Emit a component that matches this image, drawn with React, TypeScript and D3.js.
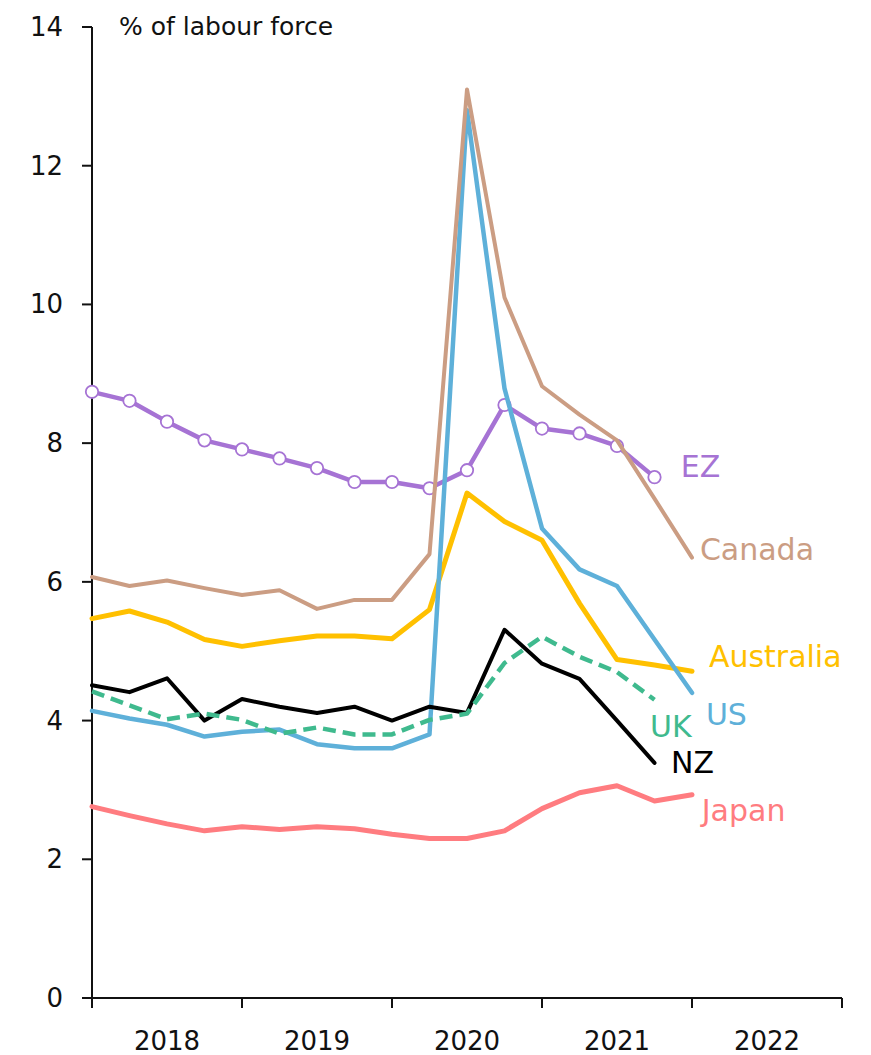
import React from "react";
import * as d3 from "d3";

// Quarterly unemployment rate, % of labour force, Q1 2018 onwards (index 0 = 2018 Q1)
const years = ["2018", "2019", "2020", "2021", "2022"];
const yTicks = [0, 2, 4, 6, 8, 10, 12, 14];

const ez = [8.74, 8.61, 8.31, 8.04, 7.91, 7.78, 7.64, 7.44, 7.44, 7.35, 7.61, 8.55, 8.21, 8.14, 7.96, 7.51];
const canada = [6.07, 5.94, 6.02, 5.91, 5.81, 5.88, 5.61, 5.74, 5.74, 6.4, 13.1, 10.1, 8.82, 8.41, 8.04, 7.2, 6.35];
const australia = [5.47, 5.58, 5.42, 5.17, 5.07, 5.15, 5.22, 5.22, 5.18, 5.6, 7.28, 6.87, 6.6, 5.69, 4.88, 4.8, 4.71];
const us = [4.14, 4.03, 3.94, 3.77, 3.84, 3.87, 3.66, 3.6, 3.6, 3.8, 12.8, 8.79, 6.77, 6.18, 5.94, 5.17, 4.4];
const uk = [4.42, 4.22, 4.02, 4.1, 4.01, 3.81, 3.9, 3.8, 3.8, 4.01, 4.1, 4.83, 5.21, 4.92, 4.7, 4.3];
const nz = [4.51, 4.41, 4.61, 4.0, 4.31, 4.2, 4.11, 4.2, 4.0, 4.2, 4.11, 5.31, 4.82, 4.6, 4.0, 3.39];
const japan = [2.76, 2.63, 2.51, 2.41, 2.47, 2.43, 2.47, 2.44, 2.36, 2.3, 2.3, 2.41, 2.73, 2.96, 3.06, 2.84, 2.93];

type Series = {
  name: string;
  values: number[];
  color: string;
  width: number;
  dash?: string;
  markers?: boolean;
  label: [number, number]; // label anchor in data coords (quarter index, value)
};

// drawing order: bottom to top
const series: Series[] = [
  { name: "Japan", values: japan, color: "#FF7C80", width: 5, label: [16.26, 2.71] },
  { name: "EZ", values: ez, color: "#A673D4", width: 4.5, markers: true, label: [15.7, 7.67] },
  { name: "Australia", values: australia, color: "#FFC000", width: 5, label: [16.45, 4.93] },
  { name: "US", values: us, color: "#5EB0D9", width: 4.5, label: [16.37, 4.09] },
  { name: "NZ", values: nz, color: "#000000", width: 4, label: [15.44, 3.4] },
  { name: "UK", values: uk, color: "#3FBA8E", width: 4.5, dash: "13,7", label: [14.88, 3.92] },
  { name: "Canada", values: canada, color: "#CB9D83", width: 4, label: [16.21, 6.46] },
];

const W = 871;
const H = 1055;
const FONT = "'DejaVu Sans', 'Open Sans', sans-serif";

export default function App() {
  const x = d3.scaleLinear().domain([0, 20]).range([92, 842]);
  const y = d3.scaleLinear().domain([0, 14]).range([998, 27]);
  const line = d3
    .line<number>()
    .x((_, i) => x(i))
    .y((d) => y(d));

  const yearTicks = d3.range(0, 21, 4);

  return (
    <svg
      width={W}
      height={H}
      style={{ position: "absolute", left: 0, top: 0, background: "#fff" }}
      fontFamily={FONT}
    >
      <rect width={W} height={H} fill="#fff" />
      {/* y axis */}
      <line x1={x(0)} x2={x(0)} y1={y(14)} y2={y(0)} stroke="#111" strokeWidth={2} />
      {yTicks.map((t) => (
        <g key={t}>
          <line x1={x(0) - 10} x2={x(0)} y1={y(t)} y2={y(t)} stroke="#111" strokeWidth={2} />
          <text x={63} y={y(t)} textAnchor="end" dominantBaseline="central" fontSize={26} fill="#111">
            {t}
          </text>
        </g>
      ))}
      {/* x axis */}
      <line x1={x(0)} x2={x(20)} y1={y(0)} y2={y(0)} stroke="#111" strokeWidth={2} />
      {yearTicks.map((t) => (
        <line key={t} x1={x(t)} x2={x(t)} y1={y(0)} y2={y(0) + 10} stroke="#111" strokeWidth={2} />
      ))}
      {years.map((yr, i) => (
        <text key={yr} x={x(i * 4 + 2)} y={1050} textAnchor="middle" fontSize={26} fill="#111">
          {yr}
        </text>
      ))}
      <text x={119} y={35} fontSize={25} fill="#111">
        % of labour force
      </text>

      {series.map((s) => (
        <g key={s.name}>
          <path
            d={line(s.values) || ""}
            fill="none"
            stroke={s.color}
            strokeWidth={s.width}
            strokeDasharray={s.dash}
            strokeLinejoin="round"
            strokeLinecap={s.dash ? "butt" : "round"}
          />
          {s.markers &&
            s.values.map((v, i) => (
              <circle key={i} cx={x(i)} cy={y(v)} r={6.2} fill="#fff" stroke={s.color} strokeWidth={1.8} />
            ))}
          <text
            x={x(s.label[0])}
            y={y(s.label[1])}
            dominantBaseline="central"
            fontSize={30}
            fill={s.color}
          >
            {s.name}
          </text>
        </g>
      ))}
    </svg>
  );
}
